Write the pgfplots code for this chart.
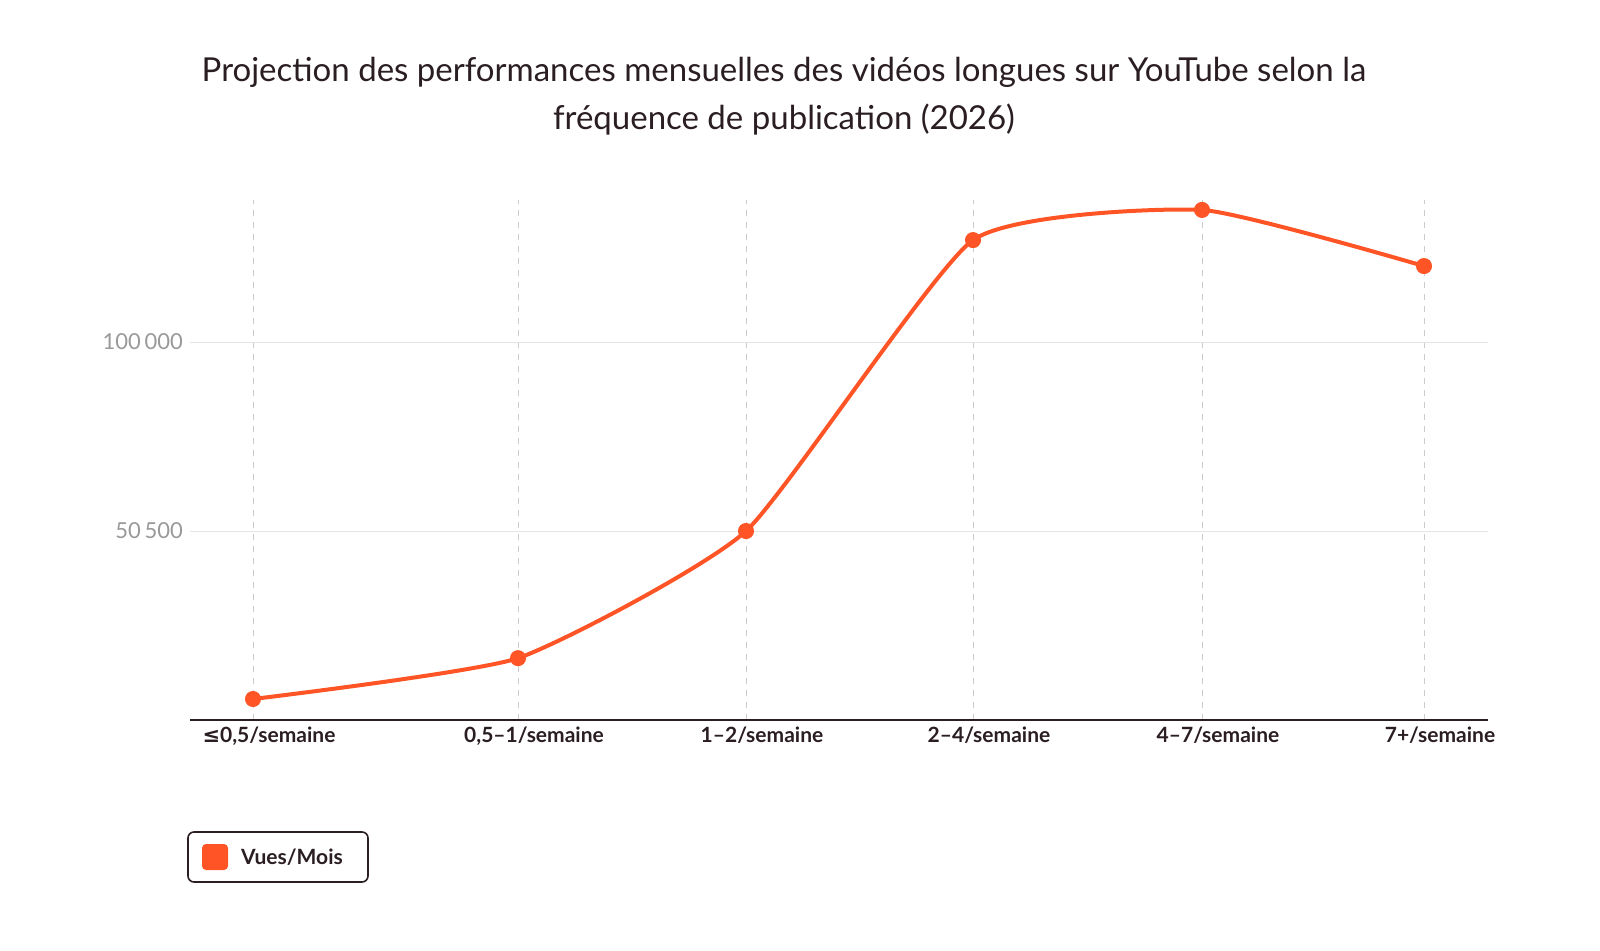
\documentclass[border=0pt]{standalone}
\usepackage{pgfplots}
\pgfplotsset{compat=1.18}
\usepackage{fontspec}
\setmainfont{Lato}
\newfontfamily\dejavu{DejaVu Sans}
\definecolor{orng}{HTML}{FF5426}
\definecolor{dk}{HTML}{2A1E22}
\begin{document}
\begin{tikzpicture}[x=1pt,y=1pt]
\node[font=\fontsize{16.5}{24}\selectfont, text=dk, align=center] at (392,427) {Projection des performances mensuelles des vidéos longues sur YouTube selon la\\fréquence de publication (2026)};
\begin{axis}[at={(95pt,115pt)}, anchor=south west, scale only axis,
 width=649pt, height=260pt, xmin=190, xmax=1488, ymin=1000, ymax=137200,
 axis line style={draw=none}, axis x line*=bottom, axis y line*=left,
 scaled y ticks=false,
 xtick={253,518,746,973,1202,1424},
 xticklabels={{{\dejavu≤}0,5/semaine},{0,5–1/semaine},{1–2/semaine},{2–4/semaine},{4–7/semaine},{7+/semaine}},
 xticklabel style={font=\bfseries\fontsize{10.5}{12}\selectfont, text=dk, xshift=8pt},
 ytick={50500,100000}, yticklabels={50\,500,100\,000},
 yticklabel style={font=\fontsize{11}{12}\selectfont, text=gray!80},
 major tick length=0pt,
 xmajorgrids, ymajorgrids,
 x grid style={dashed, gray!40}, y grid style={gray!20},
 clip=false]
\draw[dk, line width=0.8pt] (axis cs:190,1000) -- (axis cs:1488,1000);
\addplot[orng, line width=2pt, smooth, tension=0.3, mark=*, mark size=3pt, mark options={fill=orng}]
 coordinates {(253,6500)(518,17200)(746,50500)(973,126700)(1202,134600)(1424,119900)};
\end{axis}
\draw[dk, line width=0.8pt, rounded corners=3pt] (94,34) rectangle (184,59);
\fill[orng, rounded corners=2pt] (101,40) rectangle (114,53);
\node[anchor=west, font=\bfseries\fontsize{10.5}{12}\selectfont, text=dk] at (117,46.5) {Vues/Mois};
\pgfresetboundingbox
\path[use as bounding box] (0,0) rectangle (800,475);
\end{tikzpicture}
\end{document}
